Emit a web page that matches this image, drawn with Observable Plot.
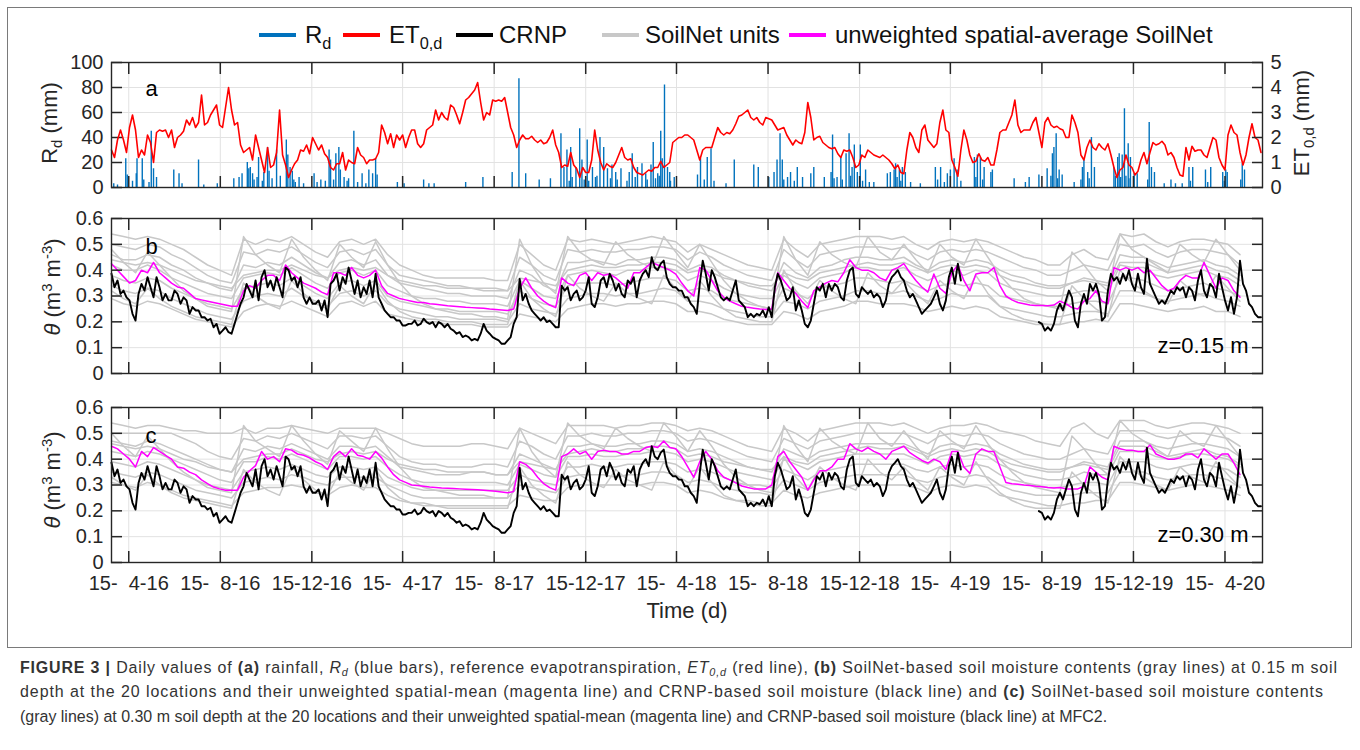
<!DOCTYPE html>
<html>
<head>
<meta charset="utf-8">
<script src="https://cdn.jsdelivr.net/npm/d3@7"></script>
<script src="https://cdn.jsdelivr.net/npm/@observablehq/plot@0.6"></script>
<style>
  html,body{margin:0;padding:0;background:#fff}
  #root{position:relative;width:1360px;height:750px;overflow:hidden;background:#fff;font-family:Arial,"Liberation Sans",Helvetica,sans-serif;color:#262626}
  #root svg{position:absolute;left:0;overflow:visible}
  .box{position:absolute;left:7px;top:7px;width:1345px;height:641px;border:1.5px solid #7a7a7a;box-sizing:border-box}
  .lg{position:absolute;top:35px;transform:translateY(-50%);font-size:24px;color:#111;white-space:nowrap;line-height:1}
  .sw{position:absolute;top:33px;width:37px;height:4px}
  sub{font-size:0.68em;vertical-align:-0.35em;line-height:0}
  sup{font-size:0.68em;vertical-align:0.55em;line-height:0}
  .ylab{position:absolute;transform:translate(-50%,-50%) rotate(-90deg);white-space:nowrap;font-size:22px;color:#262626}
</style>
</head>
<body>
<div id="root">
  <div class="box"></div>
  <div class="sw" style="left:259px;background:#0072bd"></div><div class="lg" style="left:305px">R<sub>d</sub></div>
  <div class="sw" style="left:343px;background:#ff0000"></div><div class="lg" style="left:389px">ET<sub>0,d</sub></div>
  <div class="sw" style="left:456px;background:#000"></div><div class="lg" style="left:499px">CRNP</div>
  <div class="sw" style="left:602px;background:#c8c8c8"></div><div class="lg" style="left:645px">SoilNet units</div>
  <div class="sw" style="left:789px;background:#ff00ff"></div><div class="lg" style="left:835px">unweighted spatial-average SoilNet</div>
  <div class="ylab" style="left:50px;top:123px">R<sub>d</sub> (mm)</div>
  <div class="ylab" style="left:1302px;top:123px">ET<sub>0,d</sub> (mm)</div>
  <div class="ylab" style="left:53px;top:287px"><i>θ</i> (m<sup>3</sup> m<sup>-3</sup>)</div>
  <div class="ylab" style="left:53px;top:480px"><i>θ</i> (m<sup>3</sup> m<sup>-3</sup>)</div>
</div>
<script>
// ---------------- DATA ----------------
// time axis: day 0 = 2016-03-23; series sampled every N days
const startDate = "2016-03-23";
const endDate = "2020-06-04";
const tickDates = ["2016-04-15","2016-08-15","2016-12-15","2017-04-15","2017-08-15","2017-12-15","2018-04-15","2018-08-15","2018-12-15","2019-04-15","2019-08-15","2019-12-15","2020-04-15"];
const rainTicks = [0,20,40,60,80,100];
const etTicks = [0,1,2,3,4,5];
const thetaTicks = [0,0.1,0.2,0.3,0.4,0.5,0.6];

// rainfall R_d (mm): day offset since start, value
const rainDay = [3,8,19,21,28,33,34,41,43,50,53,56,60,83,90,94,116,123,141,163,170,174,181,183,185,188,190,194,196,201,203,208,210,214,220,225,233,235,238,241,243,245,250,256,270,274,279,285,290,292,296,299,303,305,310,314,316,323,328,334,339,343,348,352,354,381,390,416,423,430,472,495,534,543,552,570,585,599,603,607,610,612,614,619,624,627,630,634,636,641,645,647,651,656,661,665,667,672,674,679,687,690,694,698,701,707,712,714,719,722,725,728,730,732,734,737,741,744,745,750,781,785,790,794,799,803,819,830,856,862,876,883,887,891,894,896,901,905,910,914,921,932,936,950,959,961,963,967,972,974,979,983,985,987,990,994,998,1001,1005,1010,1016,1034,1038,1043,1045,1047,1050,1052,1054,1058,1065,1078,1098,1101,1105,1110,1114,1118,1123,1127,1132,1150,1152,1154,1158,1161,1163,1172,1174,1203,1218,1223,1236,1247,1252,1254,1256,1259,1261,1263,1267,1283,1292,1294,1296,1301,1303,1306,1310,1336,1338,1341,1343,1345,1347,1350,1352,1355,1356,1358,1363,1367,1381,1383,1386,1390,1403,1412,1418,1427,1436,1438,1441,1458,1461,1465,1481,1483,1485,1487,1505,1507,1510];
const rainMm = [3,2,23,10,5,11,23,23,6,4,45,15,8,14,11,3,22,2,3,7,8,11,20,15,16,11,6,8,24,5,12,32,13,7,30,9,38,26,16,13,6,4,8,3,11,4,6,5,30,22,6,27,32,14,8,5,7,45,4,11,3,14,11,23,10,4,3,6,3,3,4,8,12,87,11,6,7,43,16,30,5,32,8,16,47,22,6,38,5,16,8,9,40,32,15,7,18,12,6,15,5,12,27,8,16,19,11,6,18,36,7,11,9,45,23,82,16,12,5,8,10,23,6,24,31,5,3,22,18,16,8,12,22,43,22,6,8,12,5,16,8,11,16,8,12,42,7,8,24,6,27,43,9,16,34,12,34,5,14,4,4,11,12,14,19,8,14,5,16,12,4,3,16,6,16,4,11,14,23,14,5,24,8,26,24,6,16,12,14,7,4,8,10,15,9,27,32,43,7,14,10,4,6,16,22,12,7,40,16,16,9,24,27,8,26,63,9,35,7,24,11,11,6,52,16,12,3,6,3,3,16,5,16,14,4,16,12,5,14,12,6,19,14];

// reference evapotranspiration ET0,d (mm), every 4 days
const et0 = [1.5,1.2,1.9,2.3,1.9,1.4,2.4,2.9,2.3,1.2,
1.5,1.3,2.1,1.8,1.0,2.2,2.3,2.25,2.3,2.0,
2.3,1.6,2.0,2.1,2.25,2.7,2.5,2.8,2.4,2.6,
3.7,2.5,2.6,2.9,3.1,3.3,2.5,2.4,3.2,4.0,
3.1,2.5,2.6,1.7,1.4,1.5,1.6,1.1,2.1,1.6,
1.1,0.6,1.6,0.8,0.9,1.4,3.1,1.3,0.9,0.4,
0.7,0.95,1.1,1.5,1.45,1.7,1.35,2.0,1.75,1.5,
1.7,1.35,1.2,0.8,0.7,0.95,0.95,1.4,0.7,1.1,
1.0,0.95,1.6,1.3,1.2,0.95,1.1,1.1,1.15,1.4,
2.5,2.2,1.75,2.15,1.6,2.1,1.9,2.1,1.6,2.0,
2.3,2.3,1.75,1.6,1.75,2.3,2.4,2.5,3.1,2.7,
3.0,2.8,2.7,3.3,3.2,2.9,2.55,3.0,3.5,3.6,
3.75,3.9,4.2,3.4,2.7,3.0,2.9,3.5,3.45,3.5,
3.45,3.6,3.0,2.4,2.1,1.6,1.9,2.1,1.95,1.95,
2.05,1.9,1.8,1.9,1.75,1.8,2.0,2.3,1.7,1.4,
0.8,0.9,0.85,1.4,0.9,0.75,0.4,0.8,0.6,0.6,
1.1,2.3,1.5,1.0,0.7,0.95,0.85,0.8,1.0,1.3,
1.6,1.2,1.1,1.15,0.8,0.6,0.55,0.5,0.6,0.7,
0.65,0.8,0.8,1.05,0.8,0.9,1.0,1.8,1.9,2.0,
2.0,2.1,2.1,2.0,1.9,1.5,1.1,1.5,1.6,1.6,
1.6,2.0,2.4,2.2,2.1,2.2,2.15,2.3,2.55,2.85,
2.9,3.0,3.1,2.8,2.7,2.8,2.6,2.5,2.8,2.75,
2.7,2.5,2.3,2.35,2.4,2.1,1.9,1.7,1.9,1.8,
1.75,2.2,3.4,2.8,1.9,2.0,2.05,1.8,1.7,1.6,
1.55,1.6,1.35,1.2,1.5,1.45,1.5,1.2,0.8,0.9,
1.3,1.2,1.5,1.4,1.3,1.25,1.2,1.3,1.2,1.1,
0.95,0.75,0.9,0.6,0.55,1.5,2.2,2.0,1.6,1.4,
2.3,2.5,1.9,1.75,1.6,1.75,2.6,3.1,2.3,2.2,
1.1,0.8,0.45,1.5,2.3,1.9,1.3,1.0,1.05,1.35,
1.1,1.05,1.2,0.9,0.9,1.5,2.2,2.3,2.3,2.6,
2.9,3.5,2.5,2.2,2.3,2.3,2.3,2.6,2.8,2.2,
1.6,2.6,2.8,2.5,2.4,2.45,2.35,2.3,2.0,2.0,
2.9,2.6,2.2,1.3,1.1,1.6,1.9,1.6,1.5,1.75,
1.6,1.5,1.75,1.3,0.8,0.4,0.7,0.8,1.3,0.9,
0.8,0.5,0.65,1.1,1.4,0.95,1.4,1.8,1.7,1.75,
1.85,1.7,1.3,1.4,1.2,0.8,0.5,0.45,1.6,1.1,
1.65,1.45,1.5,1.5,1.3,1.2,1.6,2.0,1.9,1.2,
0.9,0.7,2.1,2.5,2.2,2.1,1.4,0.9,1.3,2.0,
2.55,2.0,1.9,1.4];

// CRNP soil moisture (m3 m-3), every 4 days (null = no data)
const crnp = [.386,.334,.36,.308,.321,.295,.283,.231,.205,.308,
.347,.321,.373,.334,.295,.373,.334,.283,.308,.283,
.283,.321,.308,.27,.295,.283,.231,.257,.244,.244,
.218,.218,.205,.212,.179,.192,.154,.166,.179,.16,
.154,.192,.231,.27,.295,.347,.321,.295,.36,.283,
.373,.40,.334,.36,.321,.373,.334,.295,.41,.40,
.36,.373,.334,.373,.295,.27,.295,.27,.27,.283,
.244,.283,.218,.347,.36,.386,.321,.373,.347,.41,
.36,.308,.36,.295,.334,.308,.36,.295,.386,.295,
.27,.244,.231,.218,.218,.205,.205,.186,.186,.192,
.192,.205,.186,.192,.212,.199,.192,.199,.179,.199,
.192,.179,.192,.173,.166,.154,.16,.141,.147,.141,
.128,.134,.128,.154,.192,.166,.154,.141,.134,.128,
.115,.115,.128,.141,.192,.218,.366,.283,.308,.27,
.244,.231,.218,.205,.218,.199,.205,.192,.179,.179,
.34,.321,.334,.283,.308,.321,.283,.295,.321,.373,
.27,.257,.295,.36,.373,.334,.386,.36,.321,.347,
.308,.295,.36,.347,.373,.295,.36,.386,.40,.373,
.45,.41,.40,.425,.437,.373,.347,.334,.334,.321,
.321,.295,.295,.27,.257,.231,.347,.437,.386,.321,
.40,.373,.334,.295,.283,.295,.283,.321,.36,.283,
.27,.257,.218,.231,.218,.231,.225,.244,.218,.257,
.218,.334,.386,.36,.321,.283,.295,.334,.244,.283,
.244,.192,.179,.205,.27,.334,.321,.347,.295,.347,
.321,.347,.334,.295,.283,.36,.40,.41,.308,.295,
.334,.321,.308,.321,.295,.308,.295,.257,.283,.347,
.373,.386,.40,.373,.36,.321,.295,.308,.283,.257,
.231,.244,.257,.27,.295,.321,.27,.244,.283,.373,
.41,.347,.425,.36,
null,null,null,null,null,null,null,null,null,null,null,null,null,null,null,null,null,null,null,null,null,null,null,null,null,
.199,.192,.166,.179,.166,.192,.244,.27,.244,.283,
.321,.295,.205,.179,.27,.308,.27,.347,.321,.347,
.308,.205,.218,.321,.386,.36,.373,.347,.386,.36,
.40,.347,.321,.386,.334,.308,.444,.347,.321,.295,
.27,.283,.27,.295,.321,.308,.334,.321,.334,.295,
.334,.321,.283,.36,.40,.321,.295,.347,.334,.295,
.386,.334,.283,.244,.295,.231,.295,.437,.347,.321,
.27,.257,.231,.218,.218];

// unweighted spatial-average SoilNet, every 8 days
const meanSoil15 = [.425,.40,.375,.35,.36,.40,.39,.43,.39,.37,
.35,.335,.33,.31,.29,.285,.28,.275,.27,.265,
.26,.26,.32,.34,.33,.36,.38,.38,.36,.42,
.39,.37,.35,.34,.33,.315,.305,.39,.39,.38,
.41,.38,.37,.38,.40,.34,.31,.30,.29,.285,
.28,.275,.275,.27,.268,.265,.262,.26,.258,.256,
.255,.254,.253,.25,.248,.246,.244,.25,.33,.37,
.33,.30,.28,.265,.255,.37,.35,.34,.38,.39,
.36,.39,.38,.385,.37,.35,.33,.39,.39,.41,
.43,.42,.41,.40,.385,.35,.32,.30,.41,.40,
.36,.32,.295,.28,.27,.26,.256,.253,.25,.248,
.25,.39,.36,.33,.31,.28,.255,.32,.335,.35,
.36,.355,.39,.44,.41,.40,.40,.39,.37,.36,
.40,.41,.425,.39,.36,.335,.315,.385,.33,.31,
.39,.42,.36,.32,.385,.39,.39,.41,.34,.30,
.285,.275,.27,.265,.263,.263,.262,.265,.28,.27,
.255,.25,.28,.29,.32,.28,.27,.41,.40,.41,
.40,.41,.39,.40,.37,.34,.32,.33,.36,.38,
.37,.37,.43,.38,.33,.37,.36,.32,.295,null,null,null];
const meanSoil30 = [.45,.44,.42,.40,.37,.43,.41,.445,.43,.415,
.40,.37,.365,.35,.34,.32,.305,.292,.285,.28,
.28,.28,.33,.355,.375,.43,.40,.41,.39,.44,
.435,.42,.415,.405,.39,.38,.36,.41,.43,.41,
.44,.415,.41,.40,.43,.405,.37,.34,.32,.31,
.30,.298,.295,.292,.29,.288,.287,.286,.285,.284,
.283,.282,.28,.278,.276,.273,.27,.275,.39,.38,
.36,.33,.305,.29,.28,.41,.42,.44,.42,.43,
.40,.43,.435,.43,.43,.42,.42,.43,.43,.445,
.45,.445,.47,.445,.44,.41,.37,.33,.39,.43,
.40,.355,.33,.32,.308,.296,.29,.285,.285,.285,
.30,.41,.43,.39,.36,.33,.28,.32,.355,.355,
.37,.40,.40,.46,.44,.43,.445,.43,.42,.40,
.43,.44,.45,.425,.41,.395,.385,.40,.39,.36,
.43,.43,.37,.345,.42,.44,.43,.43,.37,.31,
.305,.303,.30,.298,.295,.293,.29,.288,.29,.285,
.285,.285,.295,.37,.35,.33,.32,.45,.44,.435,
.435,.43,.43,.455,.42,.41,.40,.40,.405,.42,
.42,.405,.44,.42,.40,.42,.42,.385,.34,null,null,null];

// individual SoilNet units (10 representative units per depth), every 16 days
const unit15a = [.54,.53,.52,.53,.52,.50,.48,.45,.42,.40,.38,.52,.50,.52,.51,.53,.50,.47,.45,.51,.52,.50,.52,.46,.42,.40,.38,.37,.37,.37,.37,.37,.36,.36,.50,.46,.42,.40,.52,.51,.52,.51,.50,.51,.52,.53,.52,.51,.47,.50,.48,.46,.44,.42,.41,.40,.52,.48,.45,.50,.51,.52,.53,.53,.53,.52,.53,.50,.48,.51,.52,.51,.52,.51,.49,.47,.45,.44,.42,.42,.46,.48,.45,.44,.54,.53,.54,.51,.49,.51,.52,.52,.51,.50,.46];
const unit15b = [.50,.49,.48,.50,.49,.46,.44,.41,.38,.36,.35,.47,.46,.48,.47,.49,.46,.43,.41,.47,.48,.46,.48,.42,.38,.37,.36,.35,.34,.34,.33,.33,.33,.32,.45,.42,.38,.36,.48,.47,.48,.47,.47,.48,.48,.49,.49,.48,.44,.47,.45,.42,.40,.38,.37,.36,.48,.44,.41,.46,.47,.48,.49,.49,.49,.48,.49,.46,.44,.47,.48,.47,.48,.47,.45,.43,.41,.40,.38,.38,.40,.42,.41,.40,.50,.49,.50,.47,.45,.47,.48,.48,.47,.46,.42];
const unit15c = [.46,.44,.44,.46,.45,.42,.40,.37,.35,.33,.32,.42,.41,.43,.42,.45,.42,.39,.37,.43,.44,.42,.44,.38,.35,.34,.33,.32,.31,.31,.30,.30,.30,.29,.40,.38,.34,.32,.43,.43,.44,.43,.42,.44,.44,.45,.45,.44,.40,.42,.41,.38,.36,.34,.33,.32,.43,.39,.37,.41,.42,.44,.45,.45,.44,.44,.45,.42,.40,.43,.44,.43,.44,.43,.40,.38,.37,.35,.34,.34,.35,.37,.36,.35,.46,.45,.45,.43,.41,.42,.43,.44,.42,.41,.38];
const unit15d = [.42,.40,.40,.42,.40,.37,.35,.33,.31,.30,.29,.37,.38,.39,.38,.41,.38,.35,.33,.39,.40,.38,.40,.34,.32,.30,.29,.29,.28,.28,.27,.27,.27,.26,.36,.33,.30,.29,.38,.39,.40,.39,.38,.40,.40,.41,.41,.40,.36,.38,.36,.33,.31,.30,.29,.29,.38,.35,.33,.37,.38,.39,.41,.41,.40,.40,.41,.38,.36,.38,.40,.38,.40,.39,.35,.33,.32,.31,.30,.30,.31,.32,.32,.31,.42,.41,.41,.38,.37,.38,.39,.40,.38,.37,.34];
const unit15e = [.38,.36,.35,.37,.36,.33,.31,.29,.27,.26,.25,.33,.34,.35,.34,.37,.34,.31,.29,.35,.36,.34,.36,.30,.28,.27,.26,.25,.25,.24,.24,.24,.24,.23,.32,.29,.27,.26,.34,.35,.35,.35,.34,.35,.36,.37,.37,.36,.32,.33,.32,.29,.28,.27,.26,.25,.33,.31,.29,.33,.34,.35,.37,.37,.36,.35,.36,.34,.32,.34,.35,.34,.35,.34,.30,.29,.28,.27,.26,.26,.27,.28,.28,.27,.37,.37,.36,.34,.32,.33,.34,.35,.33,.32,.30];
const unit15f = [.34,.32,.31,.33,.32,.29,.27,.25,.23,.22,.21,.28,.30,.31,.30,.33,.30,.28,.26,.31,.32,.30,.32,.27,.25,.24,.23,.22,.22,.21,.21,.21,.21,.20,.27,.25,.24,.23,.29,.30,.31,.31,.30,.31,.31,.32,.33,.32,.28,.28,.27,.25,.24,.23,.22,.22,.28,.27,.25,.28,.29,.30,.32,.32,.31,.31,.32,.30,.28,.29,.31,.30,.30,.30,.26,.25,.24,.23,.22,.22,.23,.24,.24,.23,.32,.32,.31,.29,.28,.29,.30,.31,.29,.28,.26];
const unit15g = [.29,.27,.26,.28,.27,.25,.23,.21,.20,.19,.18,.24,.26,.27,.26,.28,.26,.24,.22,.27,.28,.26,.28,.23,.22,.21,.20,.20,.19,.19,.19,.18,.18,.18,.23,.22,.21,.20,.25,.26,.27,.27,.26,.27,.27,.28,.28,.27,.24,.24,.23,.21,.20,.19,.19,.19,.24,.23,.21,.24,.25,.26,.28,.28,.27,.27,.27,.26,.24,.25,.26,.25,.26,.25,.22,.21,.20,.19,.19,.19,.20,.20,.21,.20,.27,.27,.26,.25,.24,.25,.25,.26,.24,.24,.22];
const unit15h = [.48,.43,.39,.47,.42,.37,.32,.29,.26,.25,.24,.53,.46,.42,.39,.52,.45,.40,.36,.50,.45,.41,.51,.42,.35,.30,.27,.25,.24,.23,.23,.22,.22,.21,.52,.42,.35,.31,.53,.47,.44,.42,.51,.46,.43,.41,.53,.47,.41,.50,.43,.36,.31,.28,.26,.25,.53,.44,.38,.51,.46,.43,.41,.53,.47,.44,.50,.44,.39,.50,.45,.42,.52,.45,.38,.33,.29,.27,.26,.25,.47,.42,.36,.32,.54,.48,.45,.42,.39,.50,.46,.43,.52,.46,.40];
const unit15i = [.44,.43,.42,.43,.42,.40,.38,.36,.35,.34,.33,.38,.39,.40,.40,.42,.40,.38,.37,.40,.41,.40,.41,.38,.36,.35,.34,.34,.33,.33,.33,.32,.32,.32,.37,.36,.35,.34,.40,.41,.42,.41,.41,.42,.42,.43,.43,.42,.39,.40,.39,.37,.36,.35,.34,.34,.39,.37,.36,.39,.40,.41,.42,.43,.42,.42,.43,.41,.39,.41,.42,.41,.42,.41,.38,.36,.35,.34,.33,.33,.35,.36,.35,.34,.43,.43,.43,.41,.39,.40,.41,.42,.40,.39,.36];
const unit15j = [.32,.29,.27,.33,.29,.26,.24,.22,.21,.20,.19,.35,.30,.27,.25,.36,.31,.27,.25,.34,.30,.27,.35,.28,.24,.22,.21,.21,.20,.20,.20,.19,.19,.19,.36,.29,.25,.22,.38,.33,.30,.28,.35,.31,.29,.27,.38,.33,.28,.36,.30,.25,.22,.21,.20,.20,.40,.32,.27,.36,.32,.29,.27,.39,.34,.31,.36,.31,.27,.36,.32,.29,.38,.31,.26,.23,.21,.20,.19,.19,.34,.29,.25,.22,.40,.35,.32,.29,.27,.36,.32,.30,.38,.33,.28];
const unit30a = [.54,.53,.52,.53,.53,.52,.51,.51,.50,.50,.50,.52,.50,.52,.52,.53,.52,.51,.50,.52,.52,.52,.52,.50,.48,.46,.45,.45,.45,.45,.46,.46,.45,.44,.52,.50,.48,.46,.53,.53,.53,.53,.52,.53,.53,.54,.54,.53,.51,.52,.51,.49,.47,.45,.44,.43,.52,.50,.47,.51,.52,.53,.54,.54,.54,.53,.54,.52,.50,.52,.53,.53,.54,.53,.51,.50,.49,.47,.46,.45,.52,.54,.50,.48,.55,.55,.55,.53,.52,.53,.54,.54,.53,.52,.50];
const unit30b = [.50,.50,.50,.50,.50,.50,.48,.46,.43,.41,.40,.48,.47,.49,.48,.50,.48,.46,.44,.49,.49,.48,.49,.45,.41,.39,.38,.38,.37,.37,.37,.38,.38,.37,.47,.45,.42,.40,.49,.49,.50,.49,.49,.50,.50,.51,.51,.50,.47,.48,.47,.45,.43,.41,.40,.39,.48,.46,.44,.47,.48,.49,.50,.50,.50,.50,.50,.48,.46,.49,.50,.49,.50,.49,.46,.44,.42,.41,.40,.40,.42,.44,.43,.42,.51,.51,.51,.49,.48,.49,.50,.50,.49,.48,.45];
const unit30c = [.47,.46,.45,.47,.46,.44,.42,.40,.38,.36,.35,.44,.43,.45,.44,.46,.44,.42,.40,.45,.45,.44,.45,.41,.37,.36,.35,.34,.34,.34,.35,.35,.34,.34,.42,.40,.38,.36,.45,.45,.46,.45,.45,.46,.46,.47,.47,.46,.43,.44,.43,.41,.39,.37,.36,.35,.44,.42,.40,.43,.44,.45,.46,.46,.46,.46,.46,.44,.42,.45,.46,.45,.46,.45,.42,.40,.38,.37,.36,.36,.37,.39,.38,.37,.47,.47,.47,.45,.44,.45,.46,.46,.45,.44,.41];
const unit30d = [.43,.42,.41,.43,.42,.40,.38,.36,.34,.32,.31,.39,.39,.41,.40,.42,.40,.38,.36,.41,.41,.40,.41,.37,.34,.32,.31,.31,.31,.31,.31,.31,.31,.30,.38,.36,.34,.33,.41,.41,.42,.41,.41,.42,.42,.43,.43,.42,.39,.40,.39,.37,.35,.34,.33,.32,.40,.38,.36,.39,.40,.41,.42,.42,.42,.42,.42,.40,.38,.41,.42,.41,.42,.41,.38,.36,.34,.33,.32,.32,.33,.35,.34,.34,.43,.43,.43,.41,.40,.41,.42,.42,.41,.40,.37];
const unit30e = [.39,.38,.37,.39,.38,.36,.34,.32,.30,.29,.28,.35,.36,.37,.36,.38,.36,.34,.33,.37,.37,.36,.37,.33,.31,.29,.28,.28,.28,.28,.28,.28,.28,.28,.34,.32,.31,.30,.37,.37,.38,.37,.37,.38,.38,.39,.39,.38,.35,.36,.35,.33,.31,.30,.30,.29,.36,.34,.32,.35,.36,.37,.38,.38,.38,.38,.38,.36,.35,.37,.38,.37,.38,.37,.34,.32,.31,.30,.29,.29,.30,.31,.31,.30,.39,.39,.39,.37,.36,.37,.38,.38,.37,.36,.33];
const unit30f = [.35,.34,.33,.35,.34,.32,.30,.28,.27,.26,.25,.31,.32,.33,.32,.34,.33,.31,.30,.33,.33,.33,.33,.30,.28,.26,.25,.25,.25,.25,.25,.25,.25,.25,.30,.29,.28,.27,.33,.34,.34,.34,.33,.34,.34,.35,.35,.34,.31,.32,.31,.29,.28,.27,.27,.26,.32,.30,.28,.31,.32,.33,.34,.34,.34,.34,.34,.32,.31,.33,.34,.33,.34,.33,.30,.28,.27,.26,.26,.26,.26,.27,.27,.27,.35,.35,.35,.33,.32,.33,.34,.34,.33,.32,.29];
const unit30g = [.31,.30,.29,.31,.30,.28,.26,.25,.24,.23,.22,.27,.28,.29,.29,.30,.29,.27,.26,.29,.30,.29,.29,.26,.24,.23,.23,.22,.22,.22,.22,.22,.22,.22,.26,.25,.24,.24,.29,.30,.30,.30,.30,.30,.30,.31,.31,.30,.27,.28,.27,.25,.24,.24,.23,.23,.28,.26,.25,.27,.28,.29,.30,.30,.30,.30,.30,.29,.27,.29,.30,.29,.30,.29,.26,.25,.24,.23,.22,.22,.23,.23,.24,.24,.31,.31,.30,.29,.28,.29,.30,.30,.29,.28,.26];
const unit30h = [.50,.45,.41,.49,.44,.39,.35,.32,.29,.28,.27,.53,.47,.44,.41,.53,.47,.42,.38,.51,.47,.43,.52,.44,.37,.32,.29,.28,.27,.26,.26,.26,.25,.25,.52,.43,.37,.33,.54,.49,.46,.44,.52,.48,.45,.43,.54,.49,.43,.51,.45,.38,.33,.30,.28,.27,.53,.45,.39,.52,.47,.44,.42,.54,.48,.45,.51,.45,.40,.51,.47,.44,.53,.46,.40,.35,.31,.29,.28,.27,.49,.44,.38,.34,.55,.50,.47,.44,.41,.51,.47,.45,.53,.47,.41];
const unit30i = [.46,.45,.44,.45,.44,.42,.40,.39,.37,.36,.35,.40,.41,.42,.42,.44,.42,.40,.39,.42,.43,.42,.43,.40,.38,.37,.36,.36,.35,.35,.35,.35,.34,.34,.39,.38,.37,.36,.42,.43,.44,.43,.43,.44,.44,.45,.45,.44,.41,.42,.41,.39,.38,.37,.36,.36,.41,.39,.38,.41,.42,.43,.44,.45,.44,.44,.45,.43,.41,.43,.44,.43,.44,.43,.40,.38,.37,.36,.35,.35,.37,.38,.37,.36,.45,.45,.45,.43,.41,.42,.43,.44,.42,.41,.38];
const unit30j = [.33,.30,.28,.34,.30,.27,.25,.24,.23,.22,.21,.36,.31,.28,.26,.37,.32,.28,.26,.35,.31,.28,.36,.29,.25,.23,.22,.22,.21,.21,.21,.21,.21,.21,.37,.30,.26,.23,.39,.34,.31,.29,.36,.32,.30,.28,.39,.34,.29,.37,.31,.26,.24,.23,.22,.22,.41,.33,.28,.37,.33,.30,.28,.40,.35,.32,.37,.32,.28,.37,.33,.30,.39,.32,.27,.24,.22,.21,.21,.21,.35,.30,.26,.23,.41,.36,.33,.30,.28,.37,.33,.31,.39,.34,.29];

// ---------------- BUILD ----------------
const DAY = 864e5;
const T0 = new Date(startDate + "T00:00:00Z");
const T1 = new Date(endDate + "T00:00:00Z");
const at = d => new Date(+T0 + d * DAY);
const xT = tickDates.map(s => new Date(s + "T00:00:00Z"));
const series = (vals, step, extra = {}) => vals.map((v, i) => ({date: at(i * step), v, ...extra}));

const rain = rainDay.map((d, i) => ({date: at(d), mm: rainMm[i]}));
const etData = series(et0, 4);
const crnpData = series(crnp, 4);
const mean15 = series(meanSoil15, 8);
const mean30 = series(meanSoil30, 8);
const units15 = [unit15a, unit15b, unit15c, unit15d, unit15e, unit15f, unit15g, unit15h, unit15i, unit15j].flatMap((a, k) => series(a, 16, {unit: k}));
const units30 = [unit30a, unit30b, unit30c, unit30d, unit30e, unit30f, unit30g, unit30h, unit30i, unit30j].flatMap((a, k) => series(a, 16, {unit: k}));

const AX = "#262626", GRID = "#e2e2e2", FONT = "Arial, 'Liberation Sans', Helvetica, sans-serif";
const BLUE = "#0072bd", RED = "#ff0000", MAG = "#ff00ff", GRAY = "#c8c8c8";
const fmtDate = d => { const m = d.getUTCMonth() + 1; return `${d.getUTCDate()}-${m < 10 ? "\u00a0\u00a0" + m : m}-${String(d.getUTCFullYear()).slice(2)}`; };
const fmtTheta = d => d === 0 ? "0" : d.toFixed(1);
const root = document.getElementById("root");

function panel(top, height, mt, mb, yDomain, marks, xopts = {}) {
  const svg = Plot.plot({
    width: 1360, height, marginLeft: 111, marginRight: 98, marginTop: mt, marginBottom: mb,
    x: {type: "utc", domain: [T0, T1], ...xopts},
    y: {domain: yDomain},
    style: {background: "transparent", color: AX, fontFamily: FONT, fontSize: "20px", overflow: "visible"},
    marks
  });
  svg.style.top = top + "px";
  root.appendChild(svg);
}
const xTicksIn = () => [
  Plot.axisX(xT, {anchor: "bottom", tickSize: -11, fill: "none", label: null, stroke: AX, strokeWidth: 1.5}),
  Plot.axisX(xT, {anchor: "top", tickSize: -11, fill: "none", label: null, stroke: AX, strokeWidth: 1.5})
];
const yTicksIn = (t, side) => Plot.axisY(t, {anchor: side, tickSize: -11, fill: "none", label: null, stroke: AX, strokeWidth: 1.5});
const yLabels = (t, side, fmt) => Plot.axisY(t, {anchor: side, tickSize: 0, tickPadding: 8, label: null, tickFormat: fmt, fontSize: 20});

// Panel a: rainfall (left axis)
panel(50, 150, 12, 13, [0, 100], [
  Plot.gridX(xT, {stroke: GRID, strokeOpacity: 1}),
  Plot.gridY(rainTicks, {stroke: GRID, strokeOpacity: 1}),
  Plot.ruleX(rain, {x: "date", y: "mm", stroke: BLUE, strokeWidth: 1.4}),
  yLabels(rainTicks, "left", d => String(d)),
  yTicksIn(rainTicks, "left")
], {axis: null});
// Panel a: ET0 (right axis)
panel(50, 150, 12, 13, [0, 5], [
  Plot.line(etData, {x: "date", y: "v", stroke: RED, strokeWidth: 1.6}),
  yLabels(etTicks, "right", d => String(d)),
  yTicksIn(etTicks, "right"),
  ...xTicksIn(),
  Plot.frame({stroke: AX, strokeWidth: 1.4}),
  Plot.text(["a"], {frameAnchor: "top-left", dx: 34, dy: 18, fontSize: 22, fill: "#000"})
]);

function soilPanel(top, height, mb, units, mean, letter, depth, withX) {
  const m = [
    Plot.gridX(xT, {stroke: GRID, strokeOpacity: 1}),
    Plot.gridY(thetaTicks, {stroke: GRID, strokeOpacity: 1}),
    Plot.line(units, {x: "date", y: "v", z: "unit", stroke: GRAY, strokeWidth: 1.5}),
    Plot.line(mean, {x: "date", y: "v", stroke: MAG, strokeWidth: 1.5}),
    Plot.line(crnpData, {x: "date", y: "v", stroke: "#000", strokeWidth: 1.9}),
    yLabels(thetaTicks, "left", fmtTheta),
    yTicksIn(thetaTicks, "left"),
    yTicksIn(thetaTicks, "right"),
    ...xTicksIn(),
    Plot.frame({stroke: AX, strokeWidth: 1.4}),
    Plot.text([letter], {frameAnchor: "top-left", dx: 34, dy: 20, fontSize: 22, fill: "#000"}),
    Plot.text([depth], {frameAnchor: "bottom-right", textAnchor: "end", dx: -14, dy: -21, fontSize: 22, fill: "#000"})
  ];
  if (withX) {
    m.push(Plot.axisX(xT, {anchor: "bottom", tickSize: 0, tickPadding: 13, label: null, tickFormat: fmtDate, fontSize: 20}));
    m.push(Plot.text(["Time (d)"], {frameAnchor: "bottom", dy: 55, fontSize: 22, fill: AX}));
  }
  panel(top, height, 13, mb, [0, 0.6], m);
}
soilPanel(205, 180, 12, units15, mean15, "b", "z=0.15 m", false);
soilPanel(394, 236, 68, units30, mean30, "c", "z=0.30 m", true);

// Caption (justified paragraph; last line natural width)
const B = s => `<tspan font-weight="bold">${s}</tspan>`;
const I = s => `<tspan font-style="italic">${s}</tspan>`;
const SUB = s => `<tspan font-style="italic" font-size="11.5" dy="3">${s}</tspan><tspan dy="-3">`;
const line1 = `${B("FIGURE 3 | ")}Daily values of ${B("(a)")} rainfall, ${I("R")}${SUB("d")} (blue bars), reference evapotranspiration, </tspan>${I("ET")}${SUB("0,d")} (red line), </tspan>${B("(b)")} SoilNet-based soil moisture contents (gray lines) at 0.15 m soil`;
const line2 = `depth at the 20 locations and their unweighted spatial-mean (magenta line) and CRNP-based soil moisture (black line) and ${B("(c)")} SoilNet-based soil moisture contents`;
const line3 = `(gray lines) at 0.30 m soil depth at the 20 locations and their unweighted spatial-mean (magenta line) and CRNP-based soil moisture (black line) at MFC2.`;
root.insertAdjacentHTML("beforeend",
  `<svg width="1360" height="110" style="top:640px" font-family="Arial, 'Liberation Sans', sans-serif" font-size="17" fill="#333">
    <g id="capg">
    <text id="cl1" x="0" y="33">${line1}</text>
    <text id="cl2" x="0" y="57">${line2}</text>
    <text id="cl3" x="0" y="82">${line3}</text>
    </g>
  </svg>`);
const w3 = document.getElementById("cl3").getComputedTextLength();
const sx = 1088 / w3;
document.getElementById("capg").setAttribute("transform", `translate(20,0) scale(${sx},1)`);
[["cl1", 1317], ["cl2", 1303]].forEach(([id, w]) => {
  const t = document.getElementById(id);
  t.setAttribute("textLength", w / sx);
  t.setAttribute("lengthAdjust", "spacing");
});
</script>
</body>
</html>
